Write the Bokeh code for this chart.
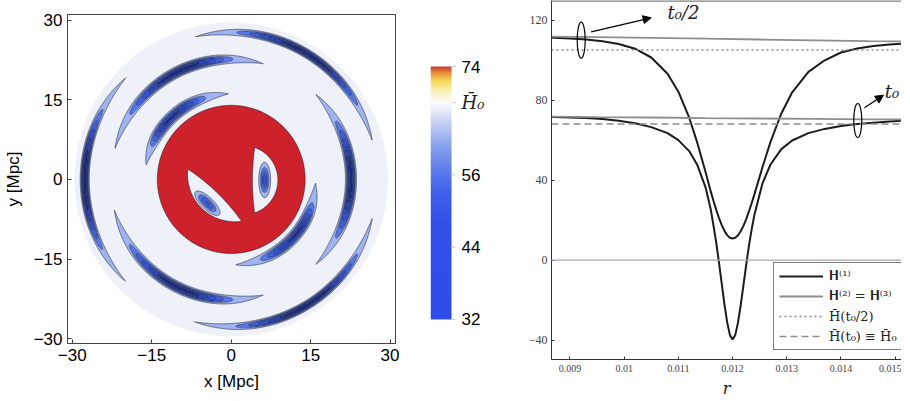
import numpy as np
from bokeh.plotting import figure
from bokeh.layouts import row
from bokeh.models import (Range1d, FixedTicker, Arrow, NormalHead,
                          Legend, LegendItem, LinearColorMapper, Span, NumeralTickFormatter)
from bokeh.embed import file_html
from bokeh.resources import INLINE
from bokeh.core.properties import value

SANS = "Liberation Sans"
NARROW = "Liberation Sans Narrow"
SERIF = "DejaVu Serif"

# ---------------- left panel: H(x, y) map ----------------
H_BG = 67.0          # value of the smooth background region
H_CORE = 77.0        # value inside the red core (above the top level)
disk_radius = 29.6
core_radius = 13.95

# arcs: visible tips (deg), radius at the tips, depth of the dip, peak position, radial width
arc_start = [14.5, 135.0, 254.5, 74.0, 194.0, -46.0, 91.0, 272.0]
arc_end = [105.0, 225.0, 345.5, 166.0, 286.0, 46.0, 171.0, 358.0]
arc_r_start = [27.6, 27.6, 27.7, 22.6, 22.8, 22.6, 16.1, 16.1]
arc_r_end = [27.7, 27.7, 27.6, 22.7, 22.6, 22.6, 16.3, 15.9]
arc_depth = [32.0, 32.0, 32.0, 31.0, 31.0, 31.0, 29.0, 29.0]
arc_peak = [0.48, 0.5, 0.52, 0.45, 0.55, 0.5, 0.55, 0.56]
arc_width = [0.6, 0.6, 0.6, 0.74, 0.74, 0.74, 0.84, 0.84]

# two lens-shaped holes in the core (intersection of two discs each)
hole_c1x = [0.74, 2.3]
hole_c1y = [1.03, -0.15]
hole_r1 = [9.0, 6.5]
hole_c2x = [-29.1, 50.0]
hole_c2y = [-29.8, -0.15]
hole_r2 = [38.0, 46.0]

# elongated minima inside the holes
dip_x = [-4.5, 6.3]
dip_y = [-4.5, -0.1]
dip_major = [2.3, 2.4]
dip_minor = [0.85, 0.8]
dip_angle = [-44.0, 90.0]
dip_depth = [19.0, 21.0]

levels = [0, 39, 44, 49, 54, 59, 64, 72, 100]
level_fill = ["#1a2a80", "#2a44bf", "#3454d8", "#3f60e2", "#5577e8", "#9fb3f0", "#ffffff", "#cd222b"]
level_alpha = [1, 1, 1, 1, 1, 1, 0, 1]

# colour bar
cb_ticks = [32, 44, 56, 74]
cb_labels = ["32", "44", "56", "74"]
cb_ref = [68]
cb_ref_label = ["H\u0304\u2080"]
cb_vals = [32, 48, 53, 57, 61, 64.5, 68, 70, 71.5, 72.7, 74]
cb_cols = ["#2e4de8", "#3150e8", "#4161e9", "#5f7fea", "#8ea5ee", "#c6d1f4", "#fbfbfd",
           "#f9f0b0", "#f4db5c", "#ea9c3e", "#cc2b2b"]

# ---------------- right panel: H(r) curves ----------------
r_h1 = [0.0086, 0.0087, 0.0090, 0.0093, 0.0096, 0.0099, 0.0102, 0.0105, 0.0108, 0.0110,
        0.0112, 0.01135, 0.0115, 0.0116, 0.01165, 0.0117, 0.01175, 0.0118, 0.01185, 0.0119,
        0.01195, 0.0120, 0.01205, 0.0121, 0.01215, 0.0122, 0.01225, 0.0123, 0.01235, 0.0124,
        0.01255, 0.0127, 0.0129, 0.0131, 0.0134, 0.0137, 0.0140, 0.0143, 0.0146, 0.0149, 0.0152]
H1_half = [111.3, 111.2, 110.8, 110.25, 109.4, 108.05, 105.7, 101.3, 93.2, 84.2,
           71.2, 58.6, 44.2, 34.1, 29.4, 25.0, 21.0, 17.5, 14.6, 12.5,
           11.2, 10.8, 11.2, 12.4, 14.4, 17.1, 20.4, 24.2, 28.3, 32.6,
           46.3, 59.1, 73.3, 83.9, 94.1, 99.9, 103.8, 105.8, 107.0, 107.8, 108.4]
H1_now = [71.6, 71.5, 71.3, 71.0, 70.5, 69.7, 68.4, 66.5, 63.5, 60.0,
          54.5, 47.5, 36.5, 25.0, 16.9, 8.5, -1.4, -11.7, -22.1, -31.0,
          -37.4, -39.7, -37.4, -31.3, -22.6, -12.7, -2.7, 6.8, 15.0, 22.3,
          38.2, 47.8, 55.5, 59.8, 63.5, 65.6, 67.0, 68.0, 68.7, 69.3, 69.8]
r_h2 = [0.0086, 0.0095, 0.0105, 0.0115, 0.0125, 0.0135, 0.0145, 0.0153]
H2_half = [111.8, 111.5, 111.1, 110.7, 110.3, 109.9, 109.5, 109.3]
H2_now = [71.7, 71.5, 71.3, 71.0, 70.8, 70.6, 70.4, 70.3]
Hbar_half = 105.0
Hbar_now = 68.0
r_ticks = [0.009, 0.010, 0.011, 0.012, 0.013, 0.014, 0.015]
H_ticks = [-40, 0, 40, 80, 120]

# markers: ellipses around the curves, arrows and labels
ell_r = [0.009207, 0.014310]
ell_H = [109.95, 69.8]
ell_w = [0.000148, 0.000148]
ell_h = [18.0, 17.0]
arrow_r0 = [0.009391, 0.014433]
arrow_H0 = [114.15, 76.15]
arrow_r1 = [0.010498, 0.014784]
arrow_H1 = [121.15, 82.45]
tag_text = ["t\u2080/2", "t\u2080"]
tag_r = [0.010799, 0.01481]
tag_H = [123.6, 84.45]

TOP_FIX = 7   # the page is photographed about 7 px higher than its body margin


def no_align(p):
    if "frame_align" in p.properties():
        p.frame_align = False


# ======================= build left panel =======================
N = 560
gx = np.linspace(-31.0, 31.0, N)
gy = np.linspace(-31.0, 31.0, N)
X, Y = np.meshgrid(gx, gy)
RR = np.hypot(X, Y)
TH = np.degrees(np.arctan2(Y, X))
eps = 0.12


def inside(d):
    return 0.5 * (1.0 + np.tanh(d / eps))


S_red = inside(core_radius - RR)
for i in range(len(hole_r1)):
    d1 = np.hypot(X - hole_c1x[i], Y - hole_c1y[i]) - hole_r1[i]
    d2 = np.hypot(X - hole_c2x[i], Y - hole_c2y[i]) - hole_r2[i]
    S_red = S_red * (1.0 - inside(-np.maximum(d1, d2)))

Z = H_BG + (H_CORE - H_BG) * S_red
thr = H_BG - 64.0
for i in range(len(arc_start)):
    a0, a1 = arc_start[i], arc_end[i]
    span = a1 - a0
    tp = arc_peak[i]
    phi = np.mod(TH - a0, 360.0)
    t = phi / span
    h = np.clip(np.where(t < tp, t / tp, (1.0 - t) / (1.0 - tp)), 0, 1)
    k_in = (1.0 - (1.0 - h) ** 3) ** 3
    d_out = np.minimum(t - 1.0, (360.0 - phi) / span)
    k_out = -np.clip(d_out / 0.04, 0, 8) ** 2
    k = np.where(t <= 1.0, k_in, k_out)
    depth = thr * np.exp(k * np.log(arc_depth[i] / thr))
    Rc = arc_r_start[i] + (arc_r_end[i] - arc_r_start[i]) * np.clip(t, 0, 1)
    Z = Z - depth * np.exp(-(np.abs(RR - Rc) / arc_width[i]) ** 2.5)

for i in range(len(dip_x)):
    ang = np.radians(dip_angle[i])
    u = (X - dip_x[i]) * np.cos(ang) + (Y - dip_y[i]) * np.sin(ang)
    v = -(X - dip_x[i]) * np.sin(ang) + (Y - dip_y[i]) * np.cos(ang)
    Z = Z - dip_depth[i] * np.exp(-(u / dip_major[i]) ** 2 - (v / dip_minor[i]) ** 2)

p1 = figure(title=None, frame_width=328, frame_height=329, x_range=Range1d(-30.9, 31.0),
            y_range=Range1d(-30.9, 31.05), output_backend="svg", toolbar_location=None,
            min_border_left=60, min_border_right=4, min_border_top=7 + TOP_FIX, min_border_bottom=52,
            background_fill_color="white", border_fill_color="white")
no_align(p1)
p1.circle(x=[0], y=[0], radius=disk_radius, fill_color="#eef2f8", line_color=None)
p1.contour(x=gx, y=gy, z=Z, levels=levels, fill_color=level_fill, fill_alpha=level_alpha,
           line_color="#10142a", line_alpha=0.5, line_width=1.0)
p1.grid.visible = False
p1.outline_line_color = "#444444"
p1.outline_line_width = 1
for ax in (p1.xaxis[0], p1.yaxis[0]):
    ax.ticker = FixedTicker(ticks=[-30, -15, 0, 15, 30])
    ax.major_label_overrides = {-30: "\u221230", -15: "\u221215"}
    ax.major_tick_in = 4
    ax.major_tick_out = 0
    ax.minor_tick_line_color = None
    ax.major_tick_line_color = "#444444"
    ax.axis_line_color = "#444444"
    ax.major_label_text_font = SANS
    ax.major_label_text_font_size = "17px"
    ax.major_label_text_color = "black"
    ax.axis_label_text_font = SANS
    ax.axis_label_text_font_size = "17px"
    ax.axis_label_text_font_style = "normal"
    ax.axis_label_text_color = "black"
p1.xaxis.axis_label = "x [Mpc]"
p1.yaxis.axis_label = "y [Mpc]"
p1.xaxis.major_label_standoff = 5
p1.xaxis.axis_label_standoff = 8
p1.yaxis.major_label_standoff = 5
p1.yaxis.axis_label_standoff = 8

# ======================= colour bar =======================
def hex2rgb(hx):
    return [int(hx[j:j + 2], 16) for j in (1, 3, 5)]


grad = np.linspace(32, 74, 256)
rgb = np.array([hex2rgb(c) for c in cb_cols], dtype=float)
chan = [np.interp(grad, cb_vals, rgb[:, j]) for j in range(3)]
palette = ["#%02x%02x%02x" % (int(round(chan[0][j])), int(round(chan[1][j])), int(round(chan[2][j])))
           for j in range(256)]
mapper = LinearColorMapper(palette=palette, low=32, high=74)

bar_px = 21.0
pc = figure(title=None, frame_width=61, frame_height=271, x_range=Range1d(0, 61 / bar_px),
            y_range=Range1d(30.5, 75.5), output_backend="svg", toolbar_location=None,
            x_axis_location=None, y_axis_location=None,
            min_border_left=31, min_border_right=0, min_border_top=50 + TOP_FIX, min_border_bottom=64)
no_align(pc)
pc.image(image=[grad.reshape(-1, 1)], x=0, y=32, dw=1, dh=42, color_mapper=mapper)
pc.grid.visible = False
pc.outline_line_color = None
all_ticks = cb_ticks + cb_ref
pc.segment(x0=[1.0] * len(all_ticks), y0=all_ticks, x1=[1.0 + 4 / bar_px] * len(all_ticks),
           y1=all_ticks, line_color="#c8c8c8", line_width=1)
pc.text(x=[1.0 + 10 / bar_px] * len(cb_ticks), y=cb_ticks, text=cb_labels, text_font=value(SANS),
        text_font_size="17px", text_baseline="middle", text_align="left", text_color="black")
pc.text(x=[1.0 + 10 / bar_px] * len(cb_ref), y=cb_ref, text=cb_ref_label, text_font=value(SERIF),
        text_font_style="italic", text_font_size="18px", text_baseline="middle", text_align="left",
        text_color="#222222")

# ======================= right panel =======================
r_lo, r_hi = 0.008659, 0.015117
H_lo, H_hi = -49.7, 129.8
p2 = figure(title=None, frame_width=350, frame_height=359, x_range=Range1d(r_lo, r_hi),
            y_range=Range1d(H_lo, H_hi), output_backend="svg", toolbar_location=None,
            min_border_left=60, min_border_right=0, min_border_top=0, min_border_bottom=39,
            background_fill_color="white", border_fill_color="white")
no_align(p2)
p2.grid.visible = False
p2.outline_line_color = None
p2.add_layout(Span(location=0, dimension="width", line_color="#a8a8a8", line_width=1.3))
p2.add_layout(Span(location=H_hi, dimension="width", line_color="#808080", line_width=2.5))

l_h1a = p2.line(r_h1, H1_half, line_color="#1c1c1c", line_width=2)
l_h1b = p2.line(r_h1, H1_now, line_color="#1c1c1c", line_width=2)
l_h2a = p2.line(r_h2, H2_half, line_color="#8e8e8e", line_width=1.8)
l_h2b = p2.line(r_h2, H2_now, line_color="#8e8e8e", line_width=1.8)
l_dot = p2.line([r_lo, r_hi], [Hbar_half, Hbar_half], line_color="#8e8e8e", line_width=1.5,
                line_dash="2 3")
l_dash = p2.line([r_lo, r_hi], [Hbar_now, Hbar_now], line_color="#8e8e8e", line_width=1.5,
                 line_dash="7 4")

p2.ellipse(x=ell_r, y=ell_H, width=ell_w, height=ell_h, fill_color=None, line_color="black",
           line_width=1.2)
for i in range(len(arrow_r0)):
    p2.add_layout(Arrow(end=NormalHead(size=8, fill_color="black", line_color="black"),
                        x_start=arrow_r0[i], y_start=arrow_H0[i], x_end=arrow_r1[i], y_end=arrow_H1[i],
                        line_color="black", line_width=1.2))
p2.text(x=tag_r, y=tag_H, text=tag_text, text_font=value(SERIF), text_font_style="italic",
        text_font_size="18px", text_baseline="middle", text_align="left", text_color="#222222")

xa = p2.xaxis[0]
xa.ticker = FixedTicker(ticks=r_ticks)
xa.formatter = NumeralTickFormatter(format="0.[000]")
xa.axis_label = "r"
xa.axis_label_text_font = SERIF
xa.axis_label_text_font_style = "italic"
xa.axis_label_text_font_size = "16px"
xa.axis_label_text_color = "#222222"
xa.axis_label_standoff = 4
ya2 = p2.yaxis[0]
ya2.ticker = FixedTicker(ticks=H_ticks)
for ax in (xa, ya2):
    ax.major_tick_in = 3
    ax.major_tick_out = 0
    ax.minor_tick_line_color = None
    ax.major_tick_line_color = "#333333"
    ax.axis_line_color = "#333333"
    ax.major_label_text_font = NARROW
    ax.major_label_text_color = "#444444"
xa.major_label_text_font_size = "10px"
ya2.major_label_text_font_size = "12px"
xa.major_label_standoff = 5
ya2.major_label_standoff = 4

legend = Legend(items=[
    LegendItem(label="\U0001D407\u207D\u00B9\u207E", renderers=[l_h1a]),
    LegendItem(label="\U0001D407\u207D\u00B2\u207E = \U0001D407\u207D\u00B3\u207E", renderers=[l_h2a]),
    LegendItem(label="H\u0304(t\u2080/2)", renderers=[l_dot]),
    LegendItem(label="H\u0304(t\u2080) \u2261 H\u0304\u2080", renderers=[l_dash]),
], location=(222, 9))
legend.border_line_color = "black"
legend.border_line_width = 1.5
legend.background_fill_alpha = 1.0
legend.padding = 5
legend.spacing = 4
legend.margin = 0
legend.glyph_width = 44
legend.glyph_height = 16
legend.label_height = 16
legend.label_standoff = 6
legend.label_text_font = SERIF
legend.label_text_font_size = "13px"
legend.label_text_color = "#222222"
p2.add_layout(legend)

layout = row(p1, pc, p2)
open("out.html", "w").write(file_html(layout, INLINE))
